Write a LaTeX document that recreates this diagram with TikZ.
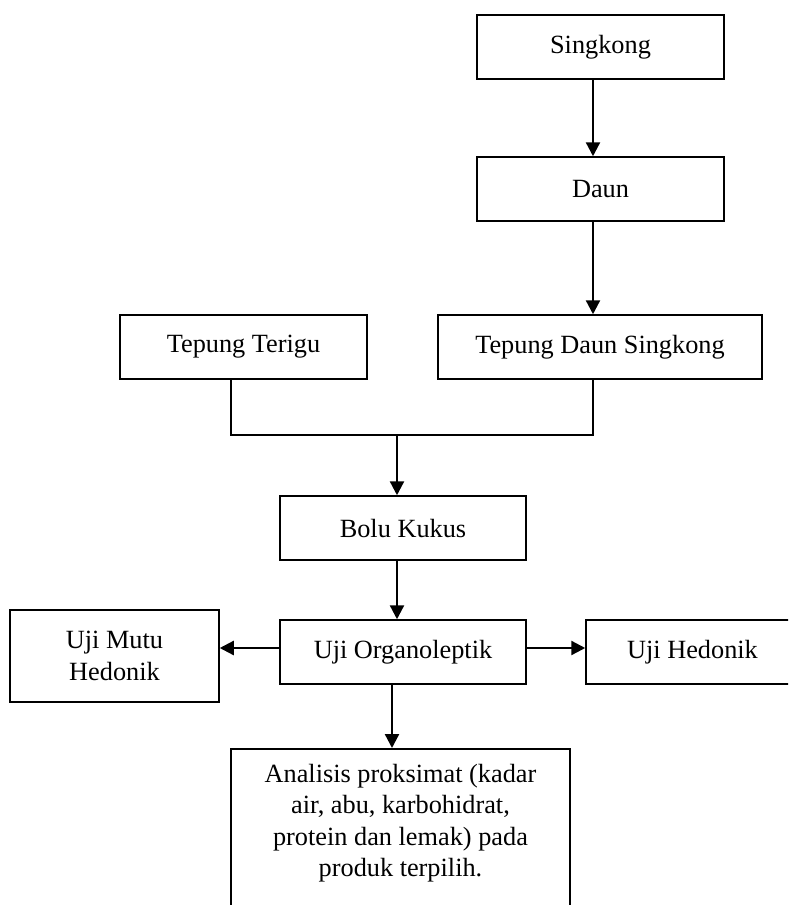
\documentclass[tikz,border=0pt]{standalone}
\usepackage{fontspec}
\setmainfont{Liberation Serif}
\usetikzlibrary{arrows.meta,calc}
\begin{document}
\begin{tikzpicture}[x=1pt,y=-1pt,
  txt/.style={font=\fontsize{26.3}{31.3}\selectfont, align=center, inner sep=0pt},
  box/.style={txt, draw, line width=1.5pt, rectangle},
  flow/.style={line width=2.3pt, -{Triangle[length=14pt,width=14pt]}},
  joinline/.style={line width=1.8pt, line join=miter}]
\clip (0,0) rectangle (788,905);
\fill[white] (0,0) rectangle (788,905);

% boxes
\node[box, minimum width=247pt, minimum height=64pt] (sing) at (600.5,47) {Singkong};
\node[box, minimum width=247pt, minimum height=64pt] (daun) at (600.5,189) {Daun};
\node[box, minimum width=247pt, minimum height=64pt] (tt) at (243.5,347) {Tepung Terigu};
\node[box, minimum width=324pt, minimum height=64pt] (tds) at (600,347) {Tepung Daun Singkong};
\node[box, minimum width=246pt, minimum height=64pt] (bolu) at (403,528) {Bolu Kukus};
\node[box, minimum width=246pt, minimum height=64pt] (org) at (403,652) {Uji Organoleptik};
\node[box, minimum width=209pt, minimum height=92pt] (mutu) at (114.5,656) {Uji Mutu\\Hedonik};
\node[box, minimum width=213pt, minimum height=64pt] (hed) at (692.5,652) {Uji Hedonik};
\node[draw, line width=1.5pt, rectangle, inner sep=0pt, minimum width=339pt, minimum height=190pt, anchor=north] (anal) at (400.5,748) {};
\node[txt, anchor=north] (analtext) at (400.5,764) {Analisis proksimat (kadar\\air, abu, karbohidrat,\\protein dan lemak) pada\\produk terpilih.};

% guide positions for the connectors
\coordinate (colA) at (593,0);
\coordinate (colB) at (231,0);
\coordinate (colC) at (397,0);
\coordinate (colD) at (392,0);
\coordinate (mid) at (397,435);
\coordinate (rowE) at (0,648);

% connectors
\draw[flow] (sing.south -| colA) -- (daun.north -| colA);
\draw[flow] (daun.south -| colA) -- (tds.north -| colA);
\draw[joinline] (tt.south -| colB) -- (colB |- mid) -- (colA |- mid) -- (tds.south -| colA);
\draw[flow] (mid) -- (bolu.north -| mid);
\draw[flow] (bolu.south -| colC) -- (org.north -| colC);
\draw[flow] (org.west |- rowE) -- (mutu.east |- rowE);
\draw[flow] (org.east |- rowE) -- (hed.west |- rowE);
\draw[flow] (org.south -| colD) -- (anal.north -| colD);
\end{tikzpicture}
\end{document}
